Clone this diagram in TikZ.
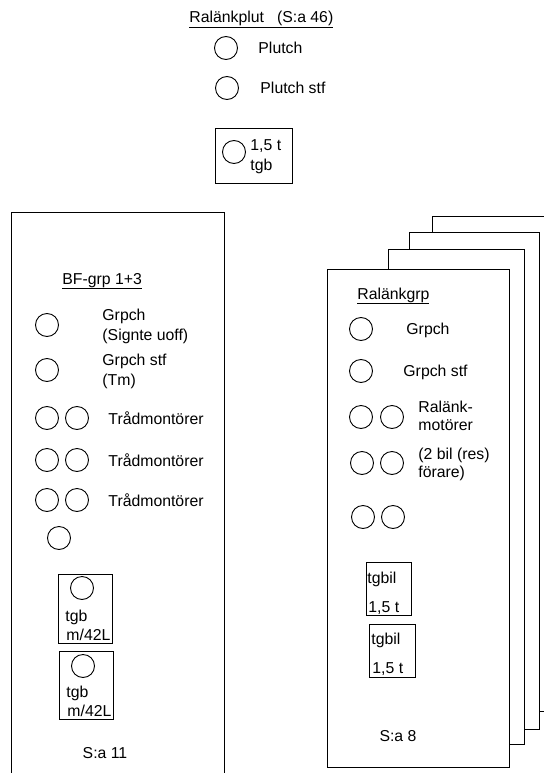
\documentclass[tikz,border=0pt]{standalone}
\usepackage{fontspec}
\setmainfont{Liberation Sans}
\usepackage{tikz}

\begin{document}
\begin{tikzpicture}[x=1pt,y=-1pt,line width=0.9pt,
  lbl/.style={anchor=base west,inner sep=0pt,font=\fontsize{15.8}{19}\selectfont},
  lblc/.style={lbl,anchor=base},
  pers/.style={circle,draw,minimum size=23pt,inner sep=0pt},
  sheet/.style={draw,fill=white}]
\useasboundingbox (0,0) rectangle (543,773);

% ralankplut
\node[lbl] (plut) at (189,23) {\underline{Ralänkplut\hspace{13pt}(S:a 46)}};
\node[pers] (pc) at (226,48) {};
\node[lbl] (pct) at (258,54) {Plutch};
\node[pers] (ps) at (227,88) {};
\node[lbl] (pst) at (260,94) {Plutch stf};
\draw (215,128) rectangle (292,183);
\node[pers] (pb) at (234,152) {};
\node[lbl] (pba) at (250,150) {1,5 t};
\node[lbl] (pbb) at (250,170) {tgb};

% bf-grp
\draw (11,212) -- (224,212);
\draw (11,212) -- (11,780);
\draw (224,212) -- (224,780);
\node[lbl] (bf) at (62,284) {\underline{BF-grp 1+3}};
\node[pers] (bf1) at (47,325) {};
\node[lbl] (bf1a) at (102,320) {Grpch};
\node[lbl] (bf1b) at (102,340) {(Signte uoff)};
\node[pers] (bf2) at (47,370) {};
\node[lbl] (bf2a) at (102,365) {Grpch stf};
\node[lbl] (bf2b) at (102,385) {(Tm)};
\foreach \y/\n in {418/a,460/b,500/c}{
  \node[pers] (bfl\n) at (47,\y) {};
  \node[pers] (bfr\n) at (77,\y) {};
  \node[lbl] (bft\n) at (108,\y+6) {Trådmontörer};
}
\node[pers] (bf6) at (59,538) {};
\draw (58,574) rectangle (112,643);
\node[pers] (bfg1) at (82,588) {};
\node[lbl] (bfg1a) at (65,621) {tgb};
\node[lbl] (bfg1b) at (66,640) {m/42L};
\draw (59,651) rectangle (113,719);
\node[pers] (bfg2) at (83,666) {};
\node[lbl] (bfg2a) at (66,697) {tgb};
\node[lbl] (bfg2b) at (67,716) {m/42L};
\node[lblc] (bfsum) at (105,758) {S:a 11};

% ralankgrp (stack)
\draw[sheet] (432,216) rectangle (550,711);
\draw[sheet] (409,232) rectangle (539,729);
\draw[sheet] (388,249) rectangle (524,744);
\draw[sheet] (327,269) rectangle (509,767);
\node[lbl] (rl) at (357,299) {\underline{Ralänkgrp}};
\node[pers] (rl1) at (361,329) {};
\node[lbl] (rl1t) at (406,334) {Grpch};
\node[pers] (rl2) at (361,371) {};
\node[lbl] (rl2t) at (403,376) {Grpch stf};
\node[pers] (rl3a) at (361,417) {};
\node[pers] (rl3b) at (392,417) {};
\node[lbl] (rl3t) at (418,412) {Ralänk-};
\node[lbl] (rl3u) at (418,430) {motörer};
\node[pers] (rl4a) at (362,463) {};
\node[pers] (rl4b) at (392,463) {};
\node[lbl] (rl4t) at (418,459) {(2 bil (res)};
\node[lbl] (rl4u) at (418,477) {förare)};
\node[pers] (rl5a) at (363,517) {};
\node[pers] (rl5b) at (393,517) {};
\draw (366,562) rectangle (411,615);
\node[lbl] (tb1a) at (367,583) {tgbil};
\node[lbl] (tb1b) at (368,612) {1,5 t};
\draw (369,624) rectangle (415,677);
\node[lbl] (tb2a) at (371,644) {tgbil};
\node[lbl] (tb2b) at (372,673) {1,5 t};
\node[lblc] (rlsum) at (398,741) {S:a 8};

\end{tikzpicture}
\end{document}
